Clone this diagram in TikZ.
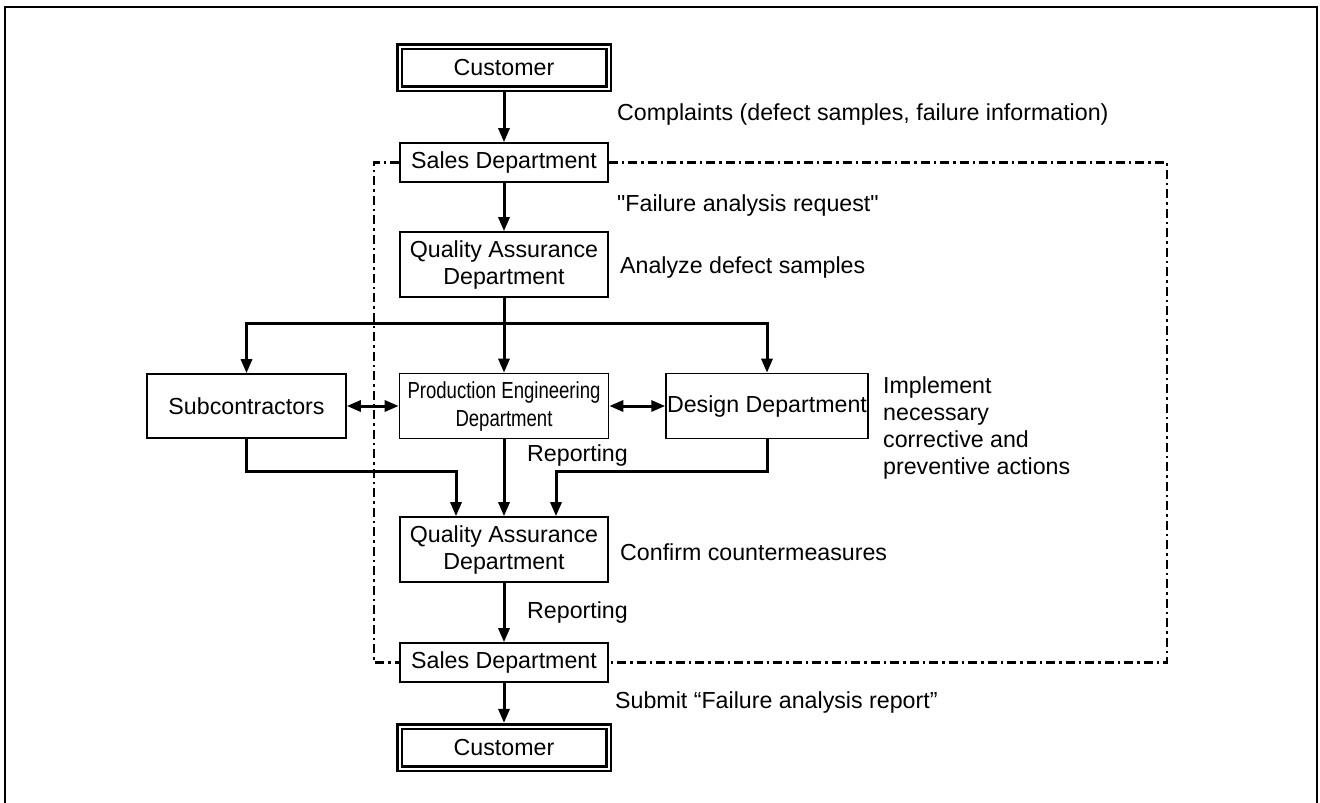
\documentclass[tikz,border=0pt]{standalone}
\usepackage{fontspec}
\setmainfont{Liberation Sans}
\newfontfamily\narrowfont[FakeStretch=0.8]{Liberation Sans}
\newfontfamily\plainfont{Liberation Sans}
\usetikzlibrary{arrows.meta,calc}

\begin{document}
\begin{tikzpicture}[
    x=1pt, y=-1pt,
    font=\fontsize{23.2}{27}\selectfont,
    >={Triangle[length=14pt,width=11pt]},
    dept/.style={rectangle, draw, line width=1.6pt, inner sep=1pt, minimum width=208pt, minimum height=65pt, align=center},
    sales/.style={dept, minimum height=39pt},
    cust/.style={rectangle, draw, double, double distance=2pt, line width=2.6pt, outer sep=3.6pt, minimum width=209pt, minimum height=42pt},
    flow/.style={->, line width=3pt},
    both/.style={<->, line width=3pt},
    dashdot/.style={line width=2.4pt, dash pattern=on 9pt off 4pt on 2.5pt off 4pt},
    note/.style={anchor=west, inner sep=0pt, align=left}
]
\useasboundingbox (0,0) rectangle (1320,803);
\draw[line width=2pt] (5,806) -- (5,7) -- (1317,7) -- (1317,806);

% Blocks
\node [cust] (cust1) at (504,67.5) {Customer};
\node [sales] (sales1) at (504,162.5) {Sales Department};
\node [dept] (qa1) at (504,264.5) {Quality Assurance\\Department};
\node [dept, minimum width=199pt, minimum height=64pt] (sub) at (246.5,406) {Subcontractors};
\node [dept, minimum width=209pt, font=\narrowfont\fontsize{23.2}{28}\selectfont] (pe) at (504,406) {Production Engineering\\Department};
\node [dept, minimum width=200pt] (design) at (767,406) {Design Department};
\node [dept] (qa2) at (504,549.5) {Quality Assurance\\Department};
\node [sales] (sales2) at (504,662.5) {Sales Department};
\node [cust] (cust2) at (504,747.5) {Customer};

% Labels
\node [note] (complaints) at (617,115) {Complaints (defect samples, failure information)};
\node [note, font=\plainfont\fontsize{23.2}{27}\selectfont] (request) at (617,205) {"Failure analysis request"};
\node [note] (analyze) at (620,267) {Analyze defect samples};
\node [note] (implement) at (883,428) {Implement\\necessary\\corrective and\\preventive actions};
\node [note] (report1) at (527,455) {Reporting};
\node [note] (confirm) at (620,552) {Confirm countermeasures};
\node [note] (report2) at (527,612) {Reporting};
\node [note] (submit) at (615,702) {Submit “Failure analysis report”};

% Coordinates
\coordinate (dtl) at (374,162.5);
\coordinate (dbl) at (374,662.5);
\coordinate (dtr) at (1167,162.5);
\coordinate (dbr) at (1167,662.5);
\coordinate (split) at (504,323);
\coordinate (qain1) at ([xshift=-48pt]qa2.north);
\coordinate (qain2) at ([xshift=52pt]qa2.north);

% Connections
\draw [dashdot] (sales1.west) -- (dtl) -- (dbl) -- (sales2.west);
\draw [dashdot] (sales1.east) -- (dtr) -- (dbr) -- (sales2.east);
\draw [flow] (cust1) -- (sales1);
\draw [flow] (sales1) -- (qa1);
\draw [flow] (qa1) -- (pe);
\draw [flow] (split) -| (sub.north);
\draw [flow] (split) -| (design.north);
\draw [both] (sub) -- (pe);
\draw [both] (pe) -- (design);
\draw [flow] (sub.south) |- ($(qain1)+(0,-45)$) -- (qain1);
\draw [flow] (pe) -- (qa2);
\draw [flow] (design.south) |- ($(qain2)+(0,-45)$) -- (qain2);
\draw [flow] (qa2) -- (sales2);
\draw [flow] (sales2) -- (cust2);
\end{tikzpicture}
\end{document}
